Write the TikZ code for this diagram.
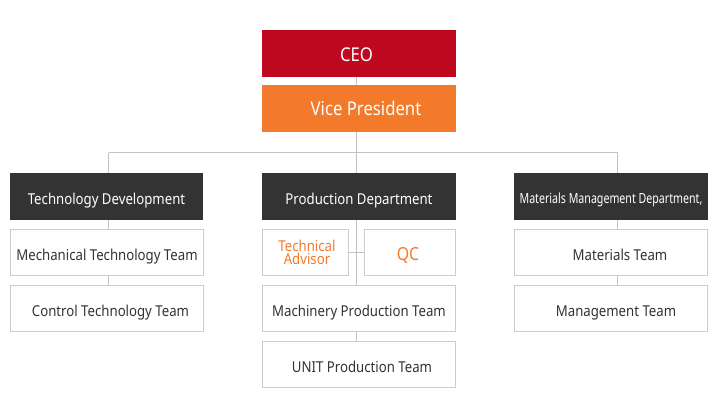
\documentclass[tikz,border=0pt]{standalone}
\usepackage{fontspec}
\setmainfont{Noto Sans}
\newfontfamily\nf[FakeStretch=0.88]{Noto Sans}
\newfontfamily\nfc[FakeStretch=0.76]{Noto Sans}
\definecolor{ceored}{HTML}{BD081F}
\definecolor{vporange}{HTML}{F47A2B}
\definecolor{darkbox}{HTML}{333333}
\definecolor{txt}{HTML}{333333}
\definecolor{bord}{HTML}{CDCDCD}
\definecolor{linec}{HTML}{C2C2C2}
\begin{document}
\begin{tikzpicture}[x=1pt,y=-1pt]
\tikzset{
  base/.style={rectangle, inner sep=0pt, outer sep=0pt, anchor=north west, text=txt, font=\nf\fontsize{15}{17}\selectfont},
  topbox/.style={base, minimum width=194pt, minimum height=47pt, text=white, font=\nf\fontsize{19}{21}\selectfont, text depth=0pt},
  deptbox/.style={base, fill=darkbox, text=white, minimum width=193pt, minimum height=47pt, text height=15pt, text depth=0pt},
  teambox/.style={base, draw=bord, line width=1pt, minimum width=193pt, minimum height=46pt, text height=16.5pt, text depth=0pt},
  conn/.style={draw=linec, line width=1pt}
}
\fill[white] (0,0) rectangle (718,415);
\useasboundingbox (0,0) rectangle (718,415);

\node[topbox, fill=ceored, text height=16.6pt] (ceo) at (262,30) {\hspace*{-5pt}CEO};
\node[topbox, fill=vporange, text height=14.6pt] (vp) at (262,85) {\hspace*{14pt}Vice President};

\node[deptbox] (td) at (10,173) {Technology Development};
\node[deptbox, minimum width=194pt] (pd) at (262,173) {Production Department};
\node[deptbox, minimum width=194pt, font=\nfc\fontsize{14}{16}\selectfont, text height=14.5pt] (mm) at (514,173) {Materials Management Department,};

\node[teambox] (mech) at (10.5,229.5) {Mechanical Technology Team};
\node[teambox] (ctrl) at (10.5,285.5) {\hspace*{7pt}Control Technology Team};

\node[teambox, minimum width=86pt, text=vporange, align=center, text height=, text depth=, font=\nf\fontsize{15}{13.2}\selectfont] (ta) at (262.5,229.5) {\hspace*{3pt}Technical\\\hspace*{3pt}Advisor};
\node[teambox, minimum width=91pt, text=vporange, text height=15.9pt, font=\nf\fontsize{18}{20}\selectfont] (qc) at (364.5,229.5) {\hspace*{-4pt}QC};
\node[teambox] (mach) at (262.5,285.5) {Machinery Production Team};
\node[teambox] (unit) at (262.5,341.5) {\hspace*{6pt}UNIT Production Team};

\node[teambox] (mat) at (514.5,229.5) {\hspace*{18pt}Materials Team};
\node[teambox] (mgmt) at (514.5,285.5) {\hspace*{10pt}Management Team};

\coordinate (bus) at (356.5,152.5);
\coordinate (busL) at (108.5,152.5);
\coordinate (busR) at (617.5,152.5);

\draw[conn] (ceo.south -| bus) -- (vp.north -| bus);
\draw[conn] (vp.south -| bus) -- (bus);
\draw[conn] (busL) -- (busR);
\draw[conn] (busL) -- (td.north -| busL);
\draw[conn] (bus) -- (pd.north -| bus);
\draw[conn] (busR) -- (mm.north -| busR);
\draw[conn] (td.south -| busL) -- (mech.north -| busL);
\draw[conn] (mech.south -| busL) -- (ctrl.north -| busL);
\draw[conn] (pd.south -| bus) -- (mach.north -| bus);
\draw[conn] (mach.south -| bus) -- (unit.north -| bus);
\draw[conn] (ta.east) -- (qc.west);
\draw[conn] (mm.south -| busR) -- (mat.north -| busR);
\draw[conn] (mat.south -| busR) -- (mgmt.north -| busR);
\end{tikzpicture}
\end{document}
